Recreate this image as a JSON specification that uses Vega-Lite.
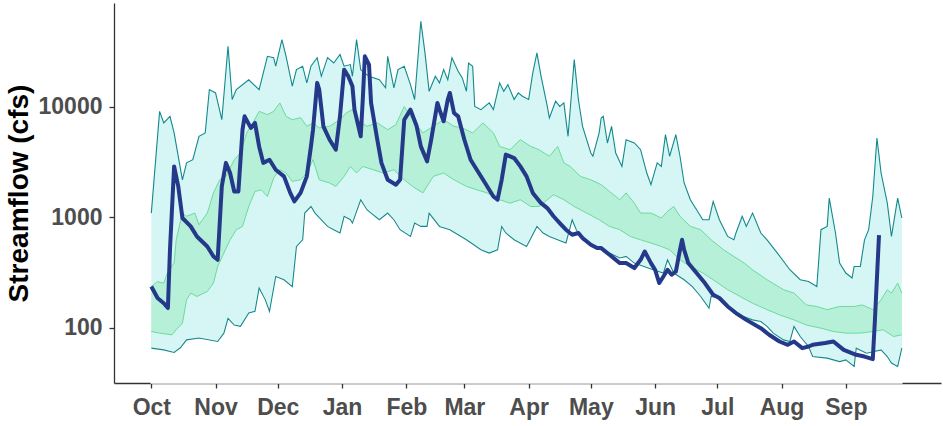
{
  "$schema": "https://vega.github.io/schema/vega-lite/v6.json",
  "width": 827,
  "height": 380,
  "autosize": {"type": "none"},
  "padding": {"left": 114, "top": 3, "right": 2, "bottom": 40},
  "background": "white",
  "config": {
    "view": {"stroke": null},
    "axis": {
      "grid": false,
      "zindex": 1,
      "domainColor": "#333333",
      "domainWidth": 1.3,
      "tickColor": "#333333",
      "tickWidth": 1.3,
      "tickSize": 5,
      "labelFont": "Liberation Sans",
      "labelFontWeight": "bold",
      "labelFontSize": 23,
      "labelColor": "#4D4D4D"
    }
  },
  "datasets": {
    "max": [
      {"date":"2021-10-01","cfs":1090},{"date":"2021-10-05","cfs":9060},{"date":"2021-10-07","cfs":7120},{"date":"2021-10-10","cfs":8170},{"date":"2021-10-12","cfs":5780},{"date":"2021-10-16","cfs":2180},{"date":"2021-10-18","cfs":3100},{"date":"2021-10-21","cfs":3310},{"date":"2021-10-24","cfs":5390},{"date":"2021-10-27","cfs":5780},{"date":"2021-10-29","cfs":14250},{"date":"2021-11-01","cfs":13300},{"date":"2021-11-04","cfs":7620},{"date":"2021-11-07","cfs":35100},{"date":"2021-11-09","cfs":11600},{"date":"2021-11-11","cfs":14250},{"date":"2021-11-17","cfs":17500},{"date":"2021-11-22","cfs":14250},{"date":"2021-11-26","cfs":28500},{"date":"2021-11-29","cfs":27700},{"date":"2021-11-30","cfs":23200},{"date":"2021-12-03","cfs":40400},{"date":"2021-12-05","cfs":28500},{"date":"2021-12-08","cfs":15300},{"date":"2021-12-10","cfs":21600},{"date":"2021-12-13","cfs":23200},{"date":"2021-12-15","cfs":16400},{"date":"2021-12-17","cfs":23200},{"date":"2021-12-20","cfs":27700},{"date":"2021-12-22","cfs":18800},{"date":"2021-12-25","cfs":27700},{"date":"2021-12-28","cfs":24800},{"date":"2021-12-31","cfs":29600},{"date":"2022-01-02","cfs":23200},{"date":"2022-01-05","cfs":24000},{"date":"2022-01-06","cfs":18800},{"date":"2022-01-08","cfs":40400},{"date":"2022-01-10","cfs":21600},{"date":"2022-01-14","cfs":18800},{"date":"2022-01-19","cfs":17500},{"date":"2022-01-22","cfs":14800},{"date":"2022-01-23","cfs":28500},{"date":"2022-01-26","cfs":14800},{"date":"2022-01-28","cfs":21600},{"date":"2022-01-31","cfs":23200},{"date":"2022-02-03","cfs":15800},{"date":"2022-02-05","cfs":11600},{"date":"2022-02-08","cfs":59100},{"date":"2022-02-10","cfs":30600},{"date":"2022-02-12","cfs":13750},{"date":"2022-02-15","cfs":18800},{"date":"2022-02-17","cfs":16400},{"date":"2022-02-19","cfs":21600},{"date":"2022-02-21","cfs":17500},{"date":"2022-02-23","cfs":27700},{"date":"2022-02-26","cfs":20900},{"date":"2022-02-28","cfs":18200},{"date":"2022-03-02","cfs":13750},{"date":"2022-03-03","cfs":24800},{"date":"2022-03-05","cfs":23200},{"date":"2022-03-06","cfs":10050},{"date":"2022-03-09","cfs":9390},{"date":"2022-03-13","cfs":10800},{"date":"2022-03-15","cfs":9390},{"date":"2022-03-18","cfs":16400},{"date":"2022-03-20","cfs":13750},{"date":"2022-03-22","cfs":15800},{"date":"2022-03-25","cfs":11600},{"date":"2022-03-27","cfs":13300},{"date":"2022-03-29","cfs":12400},{"date":"2022-04-01","cfs":11600},{"date":"2022-04-03","cfs":20200},{"date":"2022-04-05","cfs":30600},{"date":"2022-04-07","cfs":18800},{"date":"2022-04-10","cfs":10050},{"date":"2022-04-11","cfs":7900},{"date":"2022-04-14","cfs":11200},{"date":"2022-04-16","cfs":10050},{"date":"2022-04-18","cfs":10800},{"date":"2022-04-20","cfs":5390},{"date":"2022-04-23","cfs":26600},{"date":"2022-04-25","cfs":11600},{"date":"2022-04-27","cfs":6640},{"date":"2022-05-01","cfs":3810},{"date":"2022-05-02","cfs":3560},{"date":"2022-05-05","cfs":5780},{"date":"2022-05-06","cfs":7900},{"date":"2022-05-07","cfs":8170},{"date":"2022-05-09","cfs":4690},{"date":"2022-05-11","cfs":6640},{"date":"2022-05-13","cfs":3810},{"date":"2022-05-16","cfs":2880},{"date":"2022-05-18","cfs":5020},{"date":"2022-05-22","cfs":4690},{"date":"2022-05-25","cfs":4080},{"date":"2022-05-28","cfs":2510},{"date":"2022-05-30","cfs":1970},{"date":"2022-06-02","cfs":3100},{"date":"2022-06-04","cfs":2880},{"date":"2022-06-06","cfs":5580},{"date":"2022-06-08","cfs":3560},{"date":"2022-06-11","cfs":5580},{"date":"2022-06-13","cfs":3560},{"date":"2022-06-15","cfs":2040},{"date":"2022-06-18","cfs":1440},{"date":"2022-06-21","cfs":1170},{"date":"2022-06-24","cfs":949},{"date":"2022-06-27","cfs":949},{"date":"2022-06-29","cfs":1390},{"date":"2022-07-02","cfs":949},{"date":"2022-07-06","cfs":670},{"date":"2022-07-09","cfs":625},{"date":"2022-07-10","cfs":720},{"date":"2022-07-13","cfs":1020},{"date":"2022-07-15","cfs":826},{"date":"2022-07-18","cfs":1090},{"date":"2022-07-22","cfs":720},{"date":"2022-07-25","cfs":625},{"date":"2022-07-30","cfs":474},{"date":"2022-08-05","cfs":335},{"date":"2022-08-10","cfs":272},{"date":"2022-08-14","cfs":262},{"date":"2022-08-18","cfs":236},{"date":"2022-08-20","cfs":771},{"date":"2022-08-23","cfs":826},{"date":"2022-08-24","cfs":1490},{"date":"2022-08-27","cfs":720},{"date":"2022-08-29","cfs":385},{"date":"2022-09-01","cfs":313},{"date":"2022-09-04","cfs":282},{"date":"2022-09-05","cfs":359},{"date":"2022-09-08","cfs":359},{"date":"2022-09-10","cfs":625},{"date":"2022-09-12","cfs":771},{"date":"2022-09-14","cfs":1540},{"date":"2022-09-16","cfs":5210},{"date":"2022-09-18","cfs":2510},{"date":"2022-09-21","cfs":1340},{"date":"2022-09-23","cfs":670},{"date":"2022-09-26","cfs":1490},{"date":"2022-09-28","cfs":984}
    ],
    "p75": [
      {"date":"2021-10-01","cfs":236},{"date":"2021-10-04","cfs":262},{"date":"2021-10-07","cfs":253},{"date":"2021-10-09","cfs":323},{"date":"2021-10-12","cfs":385},{"date":"2021-10-13","cfs":625},{"date":"2021-10-16","cfs":1090},{"date":"2021-10-18","cfs":1020},{"date":"2021-10-22","cfs":1090},{"date":"2021-10-24","cfs":855},{"date":"2021-10-28","cfs":1090},{"date":"2021-10-31","cfs":1660},{"date":"2021-11-03","cfs":2180},{"date":"2021-11-06","cfs":2340},{"date":"2021-11-10","cfs":3310},{"date":"2021-11-13","cfs":3810},{"date":"2021-11-16","cfs":5780},{"date":"2021-11-19","cfs":7120},{"date":"2021-11-22","cfs":9060},{"date":"2021-11-26","cfs":8470},{"date":"2021-11-29","cfs":9060},{"date":"2021-12-02","cfs":10800},{"date":"2021-12-05","cfs":8170},{"date":"2021-12-08","cfs":7620},{"date":"2021-12-12","cfs":7950},{"date":"2021-12-15","cfs":6640},{"date":"2021-12-18","cfs":7120},{"date":"2021-12-21","cfs":6420},{"date":"2021-12-26","cfs":6640},{"date":"2021-12-31","cfs":7620},{"date":"2022-01-03","cfs":8770},{"date":"2022-01-06","cfs":9390},{"date":"2022-01-08","cfs":7620},{"date":"2022-01-13","cfs":6640},{"date":"2022-01-18","cfs":7120},{"date":"2022-01-23","cfs":6190},{"date":"2022-01-27","cfs":6880},{"date":"2022-01-31","cfs":10050},{"date":"2022-02-04","cfs":7620},{"date":"2022-02-09","cfs":5780},{"date":"2022-02-14","cfs":6640},{"date":"2022-02-19","cfs":7620},{"date":"2022-02-24","cfs":6640},{"date":"2022-02-28","cfs":6420},{"date":"2022-03-05","cfs":5780},{"date":"2022-03-10","cfs":7120},{"date":"2022-03-15","cfs":5780},{"date":"2022-03-18","cfs":4370},{"date":"2022-03-23","cfs":4080},{"date":"2022-03-28","cfs":5020},{"date":"2022-04-02","cfs":4370},{"date":"2022-04-06","cfs":4080},{"date":"2022-04-11","cfs":3560},{"date":"2022-04-15","cfs":4370},{"date":"2022-04-18","cfs":3100},{"date":"2022-04-21","cfs":2880},{"date":"2022-04-26","cfs":2340},{"date":"2022-05-01","cfs":2180},{"date":"2022-05-06","cfs":1970},{"date":"2022-05-10","cfs":1710},{"date":"2022-05-15","cfs":1440},{"date":"2022-05-18","cfs":1660},{"date":"2022-05-22","cfs":1340},{"date":"2022-05-25","cfs":1090},{"date":"2022-05-30","cfs":1090},{"date":"2022-06-04","cfs":984},{"date":"2022-06-07","cfs":1130},{"date":"2022-06-10","cfs":1250},{"date":"2022-06-13","cfs":1020},{"date":"2022-06-18","cfs":826},{"date":"2022-06-23","cfs":771},{"date":"2022-06-28","cfs":625},{"date":"2022-07-04","cfs":508},{"date":"2022-07-09","cfs":442},{"date":"2022-07-14","cfs":385},{"date":"2022-07-18","cfs":335},{"date":"2022-07-25","cfs":272},{"date":"2022-08-02","cfs":221},{"date":"2022-08-07","cfs":206},{"date":"2022-08-13","cfs":161},{"date":"2022-08-18","cfs":156},{"date":"2022-08-23","cfs":146},{"date":"2022-08-29","cfs":156},{"date":"2022-09-05","cfs":156},{"date":"2022-09-09","cfs":161},{"date":"2022-09-14","cfs":146},{"date":"2022-09-18","cfs":179},{"date":"2022-09-21","cfs":221},{"date":"2022-09-23","cfs":206},{"date":"2022-09-26","cfs":254},{"date":"2022-09-28","cfs":206}
    ],
    "p25": [
      {"date":"2021-10-01","cfs":92.6},{"date":"2021-10-05","cfs":89.5},{"date":"2021-10-11","cfs":86.5},{"date":"2021-10-13","cfs":96},{"date":"2021-10-16","cfs":110},{"date":"2021-10-18","cfs":179},{"date":"2021-10-20","cfs":206},{"date":"2021-10-23","cfs":192},{"date":"2021-10-28","cfs":213},{"date":"2021-10-31","cfs":254},{"date":"2021-11-02","cfs":359},{"date":"2021-11-05","cfs":474},{"date":"2021-11-08","cfs":625},{"date":"2021-11-11","cfs":771},{"date":"2021-11-14","cfs":826},{"date":"2021-11-17","cfs":1250},{"date":"2021-11-20","cfs":1710},{"date":"2021-11-23","cfs":1770},{"date":"2021-11-26","cfs":1540},{"date":"2021-11-29","cfs":2260},{"date":"2021-12-02","cfs":2690},{"date":"2021-12-05","cfs":2510},{"date":"2021-12-08","cfs":2110},{"date":"2021-12-12","cfs":2180},{"date":"2021-12-15","cfs":2510},{"date":"2021-12-18","cfs":3310},{"date":"2021-12-21","cfs":2180},{"date":"2021-12-26","cfs":2040},{"date":"2021-12-29","cfs":1900},{"date":"2022-01-02","cfs":2340},{"date":"2022-01-05","cfs":2880},{"date":"2022-01-08","cfs":2510},{"date":"2022-01-11","cfs":2880},{"date":"2022-01-16","cfs":2690},{"date":"2022-01-21","cfs":2510},{"date":"2022-01-26","cfs":2690},{"date":"2022-01-31","cfs":2180},{"date":"2022-02-04","cfs":1900},{"date":"2022-02-09","cfs":1660},{"date":"2022-02-14","cfs":2340},{"date":"2022-02-19","cfs":2510},{"date":"2022-02-24","cfs":2180},{"date":"2022-03-02","cfs":1900},{"date":"2022-03-07","cfs":1770},{"date":"2022-03-12","cfs":1660},{"date":"2022-03-18","cfs":1440},{"date":"2022-03-23","cfs":1340},{"date":"2022-03-28","cfs":1440},{"date":"2022-04-02","cfs":1250},{"date":"2022-04-06","cfs":1250},{"date":"2022-04-13","cfs":1600},{"date":"2022-04-18","cfs":1440},{"date":"2022-04-23","cfs":1250},{"date":"2022-04-29","cfs":1090},{"date":"2022-05-05","cfs":949},{"date":"2022-05-10","cfs":826},{"date":"2022-05-15","cfs":771},{"date":"2022-05-20","cfs":670},{"date":"2022-05-25","cfs":625},{"date":"2022-05-30","cfs":585},{"date":"2022-06-04","cfs":544},{"date":"2022-06-08","cfs":508},{"date":"2022-06-13","cfs":412},{"date":"2022-06-18","cfs":359},{"date":"2022-06-24","cfs":313},{"date":"2022-06-29","cfs":272},{"date":"2022-07-06","cfs":221},{"date":"2022-07-12","cfs":192},{"date":"2022-07-18","cfs":167},{"date":"2022-07-25","cfs":146},{"date":"2022-07-31","cfs":131},{"date":"2022-08-07","cfs":118},{"date":"2022-08-13","cfs":106},{"date":"2022-08-20","cfs":99.3},{"date":"2022-08-26","cfs":92.6},{"date":"2022-09-01","cfs":89.5},{"date":"2022-09-08","cfs":89.5},{"date":"2022-09-14","cfs":92.6},{"date":"2022-09-19","cfs":96},{"date":"2022-09-24","cfs":83.4},{"date":"2022-09-28","cfs":86.5}
    ],
    "min": [
      {"date":"2021-10-01","cfs":65.5},{"date":"2021-10-07","cfs":63.2},{"date":"2021-10-12","cfs":59.8},{"date":"2021-10-15","cfs":66},{"date":"2021-10-18","cfs":77.8},{"date":"2021-10-24","cfs":80.8},{"date":"2021-11-02","cfs":75.2},{"date":"2021-11-05","cfs":89.5},{"date":"2021-11-07","cfs":122},{"date":"2021-11-10","cfs":106},{"date":"2021-11-13","cfs":103},{"date":"2021-11-17","cfs":136},{"date":"2021-11-20","cfs":141},{"date":"2021-11-22","cfs":229},{"date":"2021-11-25","cfs":179},{"date":"2021-11-27","cfs":141},{"date":"2021-11-30","cfs":291},{"date":"2021-12-04","cfs":272},{"date":"2021-12-08","cfs":236},{"date":"2021-12-10","cfs":544},{"date":"2021-12-13","cfs":625},{"date":"2021-12-14","cfs":1090},{"date":"2021-12-17","cfs":1250},{"date":"2021-12-19","cfs":1090},{"date":"2021-12-21","cfs":990},{"date":"2021-12-25","cfs":826},{"date":"2021-12-28","cfs":771},{"date":"2021-12-31","cfs":720},{"date":"2022-01-02","cfs":1020},{"date":"2022-01-05","cfs":949},{"date":"2022-01-06","cfs":885},{"date":"2022-01-10","cfs":1440},{"date":"2022-01-13","cfs":1170},{"date":"2022-01-15","cfs":1090},{"date":"2022-01-19","cfs":949},{"date":"2022-01-23","cfs":1090},{"date":"2022-01-26","cfs":949},{"date":"2022-01-29","cfs":771},{"date":"2022-02-03","cfs":670},{"date":"2022-02-05","cfs":885},{"date":"2022-02-08","cfs":826},{"date":"2022-02-11","cfs":826},{"date":"2022-02-12","cfs":1090},{"date":"2022-02-17","cfs":826},{"date":"2022-02-22","cfs":771},{"date":"2022-03-02","cfs":625},{"date":"2022-03-09","cfs":508},{"date":"2022-03-13","cfs":474},{"date":"2022-03-17","cfs":508},{"date":"2022-03-19","cfs":826},{"date":"2022-03-21","cfs":720},{"date":"2022-03-25","cfs":625},{"date":"2022-03-31","cfs":544},{"date":"2022-04-05","cfs":826},{"date":"2022-04-08","cfs":720},{"date":"2022-04-11","cfs":670},{"date":"2022-04-19","cfs":585},{"date":"2022-04-22","cfs":949},{"date":"2022-04-24","cfs":771},{"date":"2022-04-27","cfs":625},{"date":"2022-05-02","cfs":544},{"date":"2022-05-07","cfs":508},{"date":"2022-05-10","cfs":474},{"date":"2022-05-15","cfs":428},{"date":"2022-05-18","cfs":442},{"date":"2022-05-22","cfs":385},{"date":"2022-05-31","cfs":335},{"date":"2022-06-05","cfs":313},{"date":"2022-06-07","cfs":412},{"date":"2022-06-10","cfs":313},{"date":"2022-06-15","cfs":272},{"date":"2022-06-19","cfs":236},{"date":"2022-06-23","cfs":192},{"date":"2022-06-27","cfs":151},{"date":"2022-06-28","cfs":192},{"date":"2022-07-02","cfs":186},{"date":"2022-07-06","cfs":156},{"date":"2022-07-09","cfs":136},{"date":"2022-07-14","cfs":126},{"date":"2022-07-18","cfs":118},{"date":"2022-07-22","cfs":114},{"date":"2022-07-25","cfs":103},{"date":"2022-07-28","cfs":89.5},{"date":"2022-08-02","cfs":77.8},{"date":"2022-08-05","cfs":75.2},{"date":"2022-08-07","cfs":103},{"date":"2022-08-10","cfs":83.4},{"date":"2022-08-14","cfs":67.8},{"date":"2022-08-16","cfs":55},{"date":"2022-08-23","cfs":53.2},{"date":"2022-08-29","cfs":49.5},{"date":"2022-09-01","cfs":51.3},{"date":"2022-09-05","cfs":44.7},{"date":"2022-09-06","cfs":65.5},{"date":"2022-09-11","cfs":58.9},{"date":"2022-09-18","cfs":63.2},{"date":"2022-09-21","cfs":55},{"date":"2022-09-23","cfs":48},{"date":"2022-09-26","cfs":44.7},{"date":"2022-09-28","cfs":65.5}
    ],
    "flow": [
      {"date":"2021-10-01","cfs":236},{"date":"2021-10-04","cfs":186},{"date":"2021-10-07","cfs":167},{"date":"2021-10-09","cfs":151},{"date":"2021-10-10","cfs":508},{"date":"2021-10-12","cfs":2880},{"date":"2021-10-14","cfs":1900},{"date":"2021-10-16","cfs":984},{"date":"2021-10-20","cfs":826},{"date":"2021-10-23","cfs":670},{"date":"2021-10-28","cfs":544},{"date":"2021-10-31","cfs":442},{"date":"2021-11-02","cfs":412},{"date":"2021-11-04","cfs":1900},{"date":"2021-11-06","cfs":3100},{"date":"2021-11-08","cfs":2510},{"date":"2021-11-10","cfs":1710},{"date":"2021-11-12","cfs":1710},{"date":"2021-11-14","cfs":6190},{"date":"2021-11-15","cfs":8170},{"date":"2021-11-18","cfs":6420},{"date":"2021-11-20","cfs":7120},{"date":"2021-11-22","cfs":4370},{"date":"2021-11-24","cfs":3100},{"date":"2021-11-27","cfs":3310},{"date":"2021-11-30","cfs":2690},{"date":"2021-12-04","cfs":2340},{"date":"2021-12-07","cfs":1660},{"date":"2021-12-09","cfs":1390},{"date":"2021-12-12","cfs":1660},{"date":"2021-12-15","cfs":2340},{"date":"2021-12-17","cfs":4370},{"date":"2021-12-18","cfs":6190},{"date":"2021-12-20","cfs":16400},{"date":"2021-12-21","cfs":14250},{"date":"2021-12-23","cfs":6640},{"date":"2021-12-26","cfs":5020},{"date":"2021-12-29","cfs":4080},{"date":"2021-12-31","cfs":8170},{"date":"2022-01-02","cfs":21600},{"date":"2022-01-04","cfs":18800},{"date":"2022-01-06","cfs":15300},{"date":"2022-01-07","cfs":9390},{"date":"2022-01-10","cfs":5390},{"date":"2022-01-11","cfs":11600},{"date":"2022-01-12","cfs":28500},{"date":"2022-01-14","cfs":24000},{"date":"2022-01-15","cfs":10800},{"date":"2022-01-18","cfs":5020},{"date":"2022-01-20","cfs":3100},{"date":"2022-01-23","cfs":2180},{"date":"2022-01-27","cfs":1970},{"date":"2022-01-29","cfs":2180},{"date":"2022-01-31","cfs":7620},{"date":"2022-02-03","cfs":9390},{"date":"2022-02-06","cfs":6640},{"date":"2022-02-08","cfs":4370},{"date":"2022-02-11","cfs":3200},{"date":"2022-02-13","cfs":5020},{"date":"2022-02-16","cfs":10800},{"date":"2022-02-17","cfs":9390},{"date":"2022-02-19","cfs":7370},{"date":"2022-02-21","cfs":11600},{"date":"2022-02-22","cfs":13300},{"date":"2022-02-24","cfs":8770},{"date":"2022-02-26","cfs":8170},{"date":"2022-03-01","cfs":5020},{"date":"2022-03-04","cfs":3310},{"date":"2022-03-07","cfs":2690},{"date":"2022-03-11","cfs":2040},{"date":"2022-03-15","cfs":1540},{"date":"2022-03-17","cfs":1440},{"date":"2022-03-19","cfs":2180},{"date":"2022-03-21","cfs":3680},{"date":"2022-03-25","cfs":3430},{"date":"2022-03-28","cfs":2880},{"date":"2022-03-31","cfs":2340},{"date":"2022-04-03","cfs":1660},{"date":"2022-04-07","cfs":1340},{"date":"2022-04-10","cfs":1210},{"date":"2022-04-13","cfs":1020},{"date":"2022-04-16","cfs":885},{"date":"2022-04-19","cfs":771},{"date":"2022-04-22","cfs":695},{"date":"2022-04-25","cfs":720},{"date":"2022-04-27","cfs":649},{"date":"2022-05-01","cfs":564},{"date":"2022-05-04","cfs":526},{"date":"2022-05-06","cfs":526},{"date":"2022-05-10","cfs":458},{"date":"2022-05-15","cfs":385},{"date":"2022-05-18","cfs":385},{"date":"2022-05-22","cfs":347},{"date":"2022-05-25","cfs":412},{"date":"2022-05-27","cfs":490},{"date":"2022-05-30","cfs":385},{"date":"2022-06-01","cfs":335},{"date":"2022-06-03","cfs":254},{"date":"2022-06-05","cfs":291},{"date":"2022-06-07","cfs":335},{"date":"2022-06-09","cfs":302},{"date":"2022-06-11","cfs":323},{"date":"2022-06-13","cfs":508},{"date":"2022-06-14","cfs":625},{"date":"2022-06-15","cfs":508},{"date":"2022-06-17","cfs":385},{"date":"2022-06-21","cfs":313},{"date":"2022-06-25","cfs":254},{"date":"2022-06-29","cfs":199},{"date":"2022-07-02","cfs":186},{"date":"2022-07-06","cfs":156},{"date":"2022-07-10","cfs":136},{"date":"2022-07-15","cfs":118},{"date":"2022-07-22","cfs":99.3},{"date":"2022-07-26","cfs":86.5},{"date":"2022-07-31","cfs":75.2},{"date":"2022-08-04","cfs":70.2},{"date":"2022-08-07","cfs":75.2},{"date":"2022-08-11","cfs":65.5},{"date":"2022-08-14","cfs":67.8},{"date":"2022-08-16","cfs":70.2},{"date":"2022-08-22","cfs":72.8},{"date":"2022-08-26","cfs":75.2},{"date":"2022-08-31","cfs":63.2},{"date":"2022-09-06","cfs":57},{"date":"2022-09-10","cfs":55},{"date":"2022-09-14","cfs":52.1},{"date":"2022-09-15","cfs":115},{"date":"2022-09-17","cfs":690}
    ]
  },
  "encoding": {
    "x": {
      "field": "date",
      "type": "temporal",
      "scale": {
        "type": "utc",
        "nice": false,
        "domain": [
          {"year": 2021, "month": 9, "date": 13, "utc": true},
          {"year": 2022, "month": 10, "date": 16, "hours": 21, "minutes": 36, "utc": true}
        ]
      },
      "axis": {
        "title": null,
        "labelPadding": 8,
        "labelExpr": "utcFormat(datum.value, '%b')",
        "values": [
          {"year": 2021, "month": 10, "date": 1, "utc": true},
          {"year": 2021, "month": 11, "date": 1, "utc": true},
          {"year": 2021, "month": 12, "date": 1, "utc": true},
          {"year": 2022, "month": 1, "date": 1, "utc": true},
          {"year": 2022, "month": 2, "date": 1, "utc": true},
          {"year": 2022, "month": 3, "date": 1, "utc": true},
          {"year": 2022, "month": 4, "date": 1, "utc": true},
          {"year": 2022, "month": 5, "date": 1, "utc": true},
          {"year": 2022, "month": 6, "date": 1, "utc": true},
          {"year": 2022, "month": 7, "date": 1, "utc": true},
          {"year": 2022, "month": 8, "date": 1, "utc": true},
          {"year": 2022, "month": 9, "date": 1, "utc": true}
        ]
      }
    },
    "y": {
      "field": "cfs",
      "type": "quantitative",
      "scale": {"type": "log", "domain": [31.7, 86500], "nice": false},
      "axis": {
        "title": "Streamflow (cfs)",
        "titleFont": "Liberation Sans",
        "titleFontWeight": "bold",
        "titleFontSize": 28,
        "titleColor": "#000000",
        "titlePadding": 5,
        "labelPadding": 7,
        "values": [100, 1000, 10000],
        "format": "d"
      }
    }
  },
  "layer": [
    {"data": {"name": "max"}, "mark": {"type": "area", "color": "#D5F6F4"}, "encoding": {"y2": {"datum": 31.7}}},
    {"data": {"name": "p75"}, "mark": {"type": "area", "color": "#B7F0D9"}, "encoding": {"y2": {"datum": 31.7}}},
    {"data": {"name": "p25"}, "mark": {"type": "area", "color": "#D5F6F4"}, "encoding": {"y2": {"datum": 31.7}}},
    {"data": {"name": "min"}, "mark": {"type": "area", "color": "#FFFFFF", "stroke": "#FFFFFF", "strokeWidth": 1.5}, "encoding": {"y2": {"datum": 31.7}}},
    {"data": {"name": "max"}, "mark": {"type": "line", "color": "#13898D", "strokeWidth": 1.1}, "encoding": {}},
    {"data": {"name": "min"}, "mark": {"type": "line", "color": "#13898D", "strokeWidth": 1.1}, "encoding": {}},
    {"data": {"name": "p75"}, "mark": {"type": "line", "color": "#6CDB9A", "strokeWidth": 1}, "encoding": {}},
    {"data": {"name": "p25"}, "mark": {"type": "line", "color": "#6CDB9A", "strokeWidth": 1}, "encoding": {}},
    {"data": {"name": "flow"}, "mark": {"type": "line", "color": "#24398A", "strokeWidth": 4, "strokeJoin": "round"}, "encoding": {}}
  ]
}
